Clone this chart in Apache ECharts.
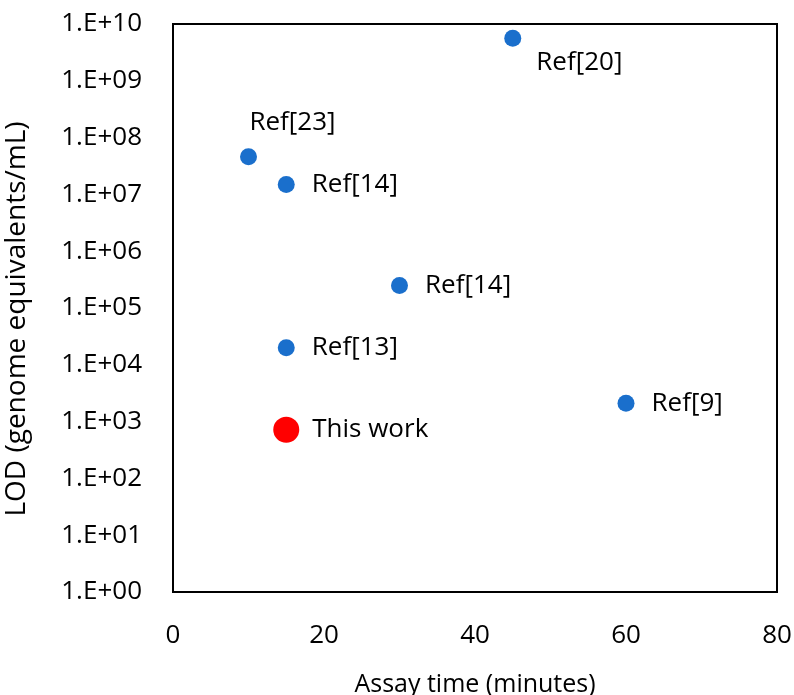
<!DOCTYPE html>
<html lang="en">
<head>
    <meta charset="UTF-8">
    <title>LOD vs assay time</title>
    <style>
        html, body {margin: 0; padding: 0; background: #fff;}
        #chart {width: 794px; height: 695px;}
    </style>
</head>
<body>
<div id="chart"></div>
<script src="https://cdn.jsdelivr.net/npm/echarts@6/dist/echarts.min.js"></script>
<script>
    // data
    let refNames  = ['Ref[23]', 'Ref[14]', 'Ref[20]', 'Ref[14]', 'Ref[13]', 'Ref[9]'];
    let refTimes  = [10, 15, 45, 30, 15, 60];
    let refLods   = [4.6e7, 1.5e7, 5.6e9, 2.5e5, 2.0e4, 2.1e3];
    let ourName   = ['This work'];
    let ourTimes  = [15];
    let ourLods   = [7.2e2];
    let xTicks    = [0, 20, 40, 60, 80];

    let font = '"Open Sans", "Noto Sans", sans-serif';
    let fs   = 26;

    // where each label sits next to its dot
    function labelFor(name, i) {
        if (i === 0) return {position: 'top', offset: [44, -8]};
        if (i === 2) return {position: 'right', offset: [10, 24]};
        return {position: 'right', offset: [12, 0]};
    }

    let refData = refNames.map(function (n, i) {
        return {name: n, value: [refTimes[i], refLods[i]], label: labelFor(n, i)};
    });
    let ourData = ourName.map(function (n, i) {
        return {name: n, value: [ourTimes[i], ourLods[i]], label: {position: 'right', offset: [8, 0]}};
    });

    let chart = echarts.init(document.getElementById('chart'), null, {renderer: 'canvas'});
    let option = {
        animation: false,
        grid: {
            left: 173, top: 24, right: 17, bottom: 103,
            containLabel: false, outerBoundsMode: 'none',
            show: true, borderColor: '#000', borderWidth: 2, backgroundColor: 'transparent'
        },
        xAxis: {
            type: 'value',
            min: xTicks[0], max: xTicks[xTicks.length - 1], interval: 20,
            name: 'Assay time (minutes)',
            nameLocation: 'middle', nameGap: 80,
            nameTextStyle: {fontFamily: font, fontSize: 25, color: '#000'},
            axisLine: {show: true, lineStyle: {color: '#000', width: 2}},
            axisTick: {show: false},
            splitLine: {show: false},
            axisLabel: {fontFamily: font, fontSize: fs, color: '#000', margin: 31}
        },
        yAxis: {
            type: 'log', logBase: 10,
            min: 1, max: 1e10, interval: 1,
            name: 'LOD (genome equivalents/mL)',
            nameLocation: 'middle', nameGap: 142, nameRotate: 90,
            nameTextStyle: {fontFamily: font, fontSize: 28, color: '#000', padding: [0, 22, 0, 0]},
            axisLine: {show: true, lineStyle: {color: '#000', width: 2}},
            axisTick: {show: false},
            splitLine: {show: false},
            axisLabel: {
                fontFamily: font, fontSize: fs, color: '#000', margin: 31,
                formatter: function (v) {
                    let e = Math.round(Math.log10(v));
                    return '1.E+' + (e < 10 ? '0' + e : e);
                }
            }
        },
        series: [
            {
                type: 'scatter',
                data: refData,
                symbolSize: 17,
                itemStyle: {color: '#1a6fcc', opacity: 1},
                label: {
                    show: true, formatter: '{b}',
                    fontFamily: font, fontSize: fs, color: '#000'
                }
            },
            {
                type: 'scatter',
                data: ourData,
                symbolSize: 26,
                itemStyle: {color: '#ff0000', opacity: 1},
                label: {
                    show: true, formatter: '{b}',
                    fontFamily: font, fontSize: fs, color: '#000'
                }
            }
        ]
    };
    chart.setOption(option);
</script>
</body>
</html>
